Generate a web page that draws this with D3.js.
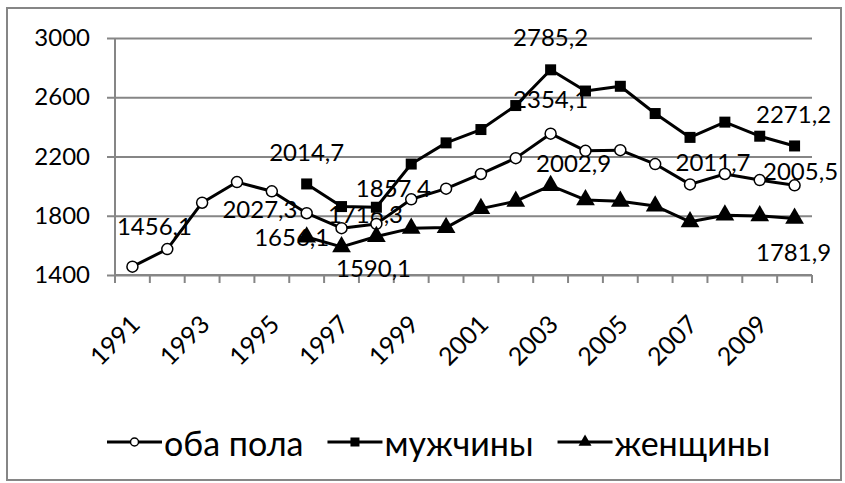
<!DOCTYPE html>
<html>
<head>
<meta charset="utf-8">
<script src="https://cdn.jsdelivr.net/npm/d3@7"></script>
<style>
  body { margin: 0; background: #fff; }
  text { font-family: Lato, "Open Sans", sans-serif; fill: #000; font-variant-numeric: tabular-nums; }
</style>
</head>
<body>
<div id="chart"></div>
<script>
// data
var years = [1991, 1992, 1993, 1994, 1995, 1996, 1997, 1998, 1999, 2000,
             2001, 2002, 2003, 2004, 2005, 2006, 2007, 2008, 2009, 2010];
var tick_years = [1991, 1993, 1995, 1997, 1999, 2001, 2003, 2005, 2007, 2009];
var y_ticks = [1400, 1800, 2200, 2600, 3000];
var series_names = ['оба пола', 'мужчины', 'женщины'];
var both = [1456.1, 1575, 1888, 2027.3, 1965, 1817, 1716.3, 1745, 1911, 1983,
            2082, 2189, 2354.1, 2238, 2243, 2149, 2011.7, 2082, 2041, 2005.5];
var men = [null, null, null, null, null, 2014.7, 1862, 1857.4, 2149, 2292,
           2382, 2544, 2785.2, 2642, 2674, 2490, 2329, 2432, 2337, 2271.2];
var women = [null, null, null, null, null, 1656.1, 1590.1, 1660, 1715, 1720,
             1848, 1898, 2002.9, 1907, 1898, 1866, 1759, 1804, 1799, 1781.9];

// which points carry a value label (series index, year) and where the label sits
var labels = [
  [0, 1991, 22, -32], [1, 1996, 0, -23], [0, 1994, 23, 36], [0, 1997, 24, -5],
  [1, 1998, 17, -10], [2, 1996, -15, 9], [2, 1997, 32, 30], [1, 2003, 0, -24],
  [0, 2003, 0, -26], [2, 2003, 23, -14], [0, 2007, 23, -13], [0, 2010, 6, -5],
  [1, 2010, -1, -23], [2, 2010, -1, 43]
];

var width = 845, height = 483;
var plot_left = 115, plot_right = 812, plot_top = 38, plot_bottom = 275;
var grey = '#868686';

var svg = d3.select('#chart').append('svg')
            .attr('width', width)
            .attr('height', height);

svg.append('rect')
   .attr('x', 7).attr('y', 8)
   .attr('width', 834).attr('height', 472)
   .attr('fill', '#fff')
   .attr('stroke', grey)
   .attr('stroke-width', 2);

var x = d3.scaleBand().domain(years).range([plot_left, plot_right]);
var y = d3.scaleLinear().domain([1400, 3000]).range([plot_bottom, plot_top]);
var cx = function(yr){ return x(yr) + x.bandwidth() / 2; };

// gridlines + y axis labels
var y_axis = svg.append('g')
   .attr('transform', 'translate(' + plot_left + ',0)')
   .call(d3.axisLeft(y)
           .tickValues(y_ticks)
           .tickFormat(d3.format('d'))
           .tickSize(0)
           .tickPadding(25));
y_axis.select('.domain').remove();
y_axis.selectAll('.tick line')
      .attr('x1', -8).attr('x2', plot_right - plot_left)
      .attr('stroke', grey).attr('stroke-width', 2);
y_axis.selectAll('text').attr('font-size', 24).attr('fill', '#000')
      .attr('font-family', 'Lato, "Open Sans", sans-serif');

svg.append('line')
   .attr('x1', plot_left).attr('x2', plot_left)
   .attr('y1', plot_top).attr('y2', plot_bottom)
   .attr('stroke', grey).attr('stroke-width', 2);

// x axis with ticks between categories
var x_axis = svg.append('g')
   .attr('transform', 'translate(0,' + plot_bottom + ')');
x_axis.append('line')
   .attr('x1', plot_left).attr('x2', plot_right)
   .attr('stroke', grey).attr('stroke-width', 2);
x_axis.selectAll('line.tick')
   .data(years.concat([null]))
   .enter().append('line')
   .attr('class', 'tick')
   .attr('x1', function(d, i){ return plot_left + i * x.step(); })
   .attr('x2', function(d, i){ return plot_left + i * x.step(); })
   .attr('y1', 0).attr('y2', 8)
   .attr('stroke', grey).attr('stroke-width', 2);
x_axis.selectAll('text')
   .data(tick_years)
   .enter().append('text')
   .text(function(d){ return d; })
   .attr('font-size', 25)
   .attr('text-anchor', 'end')
   .attr('dominant-baseline', 'central')
   .attr('transform', function(d){
       return 'translate(' + (cx(d) + 2) + ',44) rotate(-45)';
   });

// value labels sit underneath the lines
var all_series = [both, men, women];
var fmt = function(v){ return String(v).replace('.', ','); };
svg.selectAll('text.value')
   .data(labels)
   .enter().append('text')
   .attr('class', 'value')
   .text(function(d){ return fmt(all_series[d[0]][years.indexOf(d[1])]); })
   .attr('x', function(d){ return cx(d[1]) + d[2]; })
   .attr('y', function(d){ return y(all_series[d[0]][years.indexOf(d[1])]) + d[3]; })
   .attr('text-anchor', 'middle')
   .attr('font-size', 24);

var line = d3.line()
   .defined(function(d){ return d != null; })
   .x(function(d, i){ return cx(years[i]); })
   .y(function(d){ return y(d); });

all_series.forEach(function(s){
    svg.append('path')
       .datum(s)
       .attr('d', line)
       .attr('fill', 'none')
       .attr('stroke', '#000')
       .attr('stroke-width', 3)
       .attr('stroke-linejoin', 'round');
});

function draw_marker(g, kind, px, py, size){
    if (kind === 0) {
        g.append('circle').attr('cx', px).attr('cy', py).attr('r', size / 2)
         .attr('fill', '#fff').attr('stroke', '#000').attr('stroke-width', 1.5);
    } else if (kind === 1) {
        g.append('rect').attr('x', px - size / 2).attr('y', py - size / 2)
         .attr('width', size).attr('height', size).attr('fill', '#000');
    } else {
        var sym = d3.symbol().type(d3.symbolTriangle).size(size * size * 0.9);
        g.append('path').attr('d', sym)
         .attr('transform', 'translate(' + px + ',' + py + ')')
         .attr('fill', '#000');
    }
}

all_series.forEach(function(s, k){
    var g = svg.append('g');
    s.forEach(function(v, i){
        if (v == null) return;
        draw_marker(g, k, cx(years[i]), y(v), k === 2 ? 13 : 11);
    });
});

// legend
var legend_y = 442;
var legend_x = 107;
series_names.forEach(function(name, k){
    var g = svg.append('g');
    g.append('line')
     .attr('x1', legend_x).attr('x2', legend_x + 55)
     .attr('y1', legend_y).attr('y2', legend_y)
     .attr('stroke', '#000').attr('stroke-width', 3);
    draw_marker(g, k, legend_x + 27.5, legend_y, k === 0 ? 8 : 9);
    var t = g.append('text')
     .text(name)
     .attr('x', legend_x + 57)
     .attr('y', legend_y)
     .attr('dominant-baseline', 'central')
     .attr('font-size', 34);
    legend_x += 57 + t.node().getComputedTextLength() + 24;
});
</script>
</body>
</html>
